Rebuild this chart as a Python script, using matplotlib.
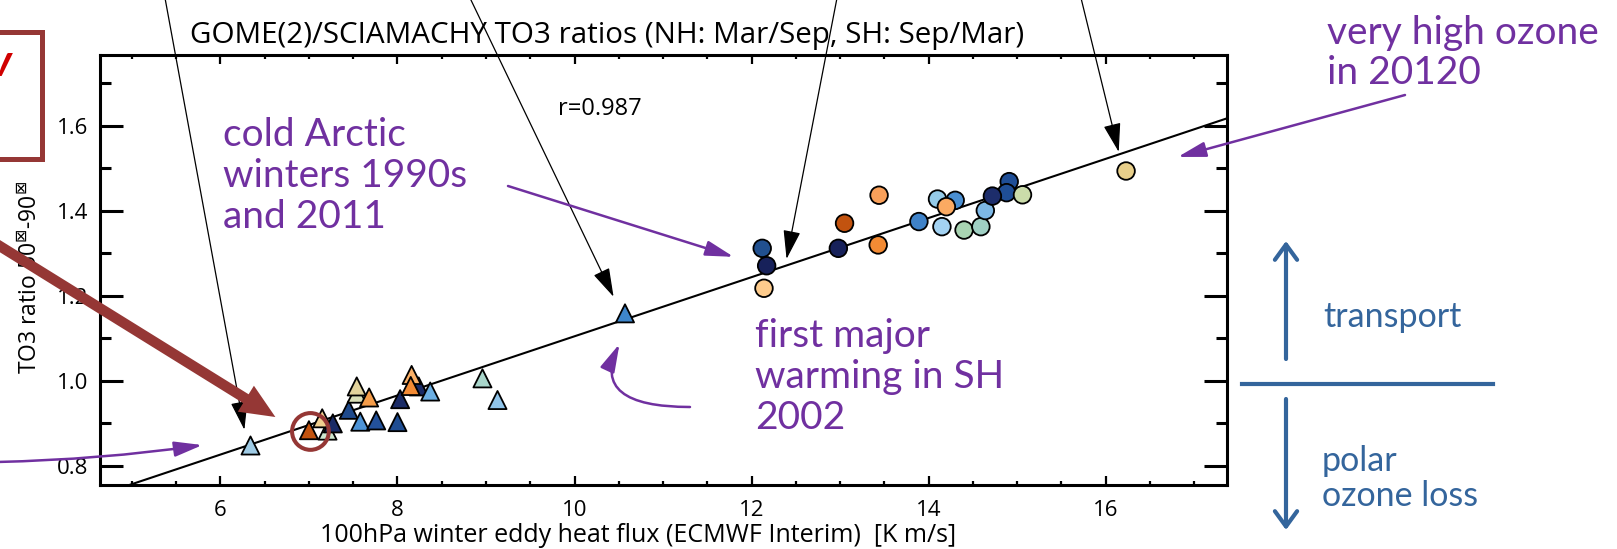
import numpy as np
import matplotlib
matplotlib.use("Agg")
import matplotlib.pyplot as plt
from matplotlib.ticker import MultipleLocator
from matplotlib.patches import Rectangle, FancyArrowPatch
from matplotlib.lines import Line2D

W, H, DPI = 1617, 549, 100

# southern hemisphere winters (triangles): eddy heat flux vs TO3 ratio
sh_flux = [6.34, 7.21, 7.15, 7.27, 7.00, 7.45, 7.54, 7.54, 7.68, 7.58,
           7.76, 8.00, 8.03, 8.24, 8.16, 8.15, 8.37, 8.96, 9.13, 10.57]
sh_ratio = [0.848, 0.883, 0.912, 0.900, 0.884, 0.932, 0.970, 0.987, 0.961, 0.904,
            0.907, 0.903, 0.957, 0.987, 1.014, 0.988, 0.975, 1.006, 0.955, 1.159]
sh_color = ['#9fcbe5', '#cde6cf', '#f0cf8f', '#1a2b66', '#c2530f', '#1e4a8c',
            '#d9dfb8', '#e2d39c', '#f59d4a', '#4d93d6', '#23519a', '#1f4d92',
            '#1a2b66', '#1a2b66', '#fbb067', '#f38b34', '#6cafe3', '#a9d6cb',
            '#8fc4ea', '#3e86cb']

# northern hemisphere winters (circles)
nh_flux = [12.12, 12.17, 12.14, 12.98, 13.05, 13.44, 13.43, 13.89, 14.30, 14.10,
           14.20, 14.15, 14.40, 14.59, 14.64, 14.91, 14.88, 14.72, 15.06, 16.23]
nh_ratio = [1.312, 1.271, 1.218, 1.312, 1.371, 1.437, 1.320, 1.375, 1.425, 1.428,
            1.410, 1.363, 1.355, 1.363, 1.401, 1.469, 1.443, 1.435, 1.438, 1.494]
nh_color = ['#21508f', '#17215a', '#fdcb8c', '#17215a', '#c2530f', '#f9a05a',
            '#f38b34', '#3f82c8', '#4a8fd2', '#95cbe8', '#fbaa62', '#a3d2f2',
            '#a9d4b2', '#a0d0c4', '#7db8e6', '#1f4e96', '#1f4e96', '#1d2d6b',
            '#cbdcaa', '#e8cf8a']

# regression line
fit_slope, fit_icpt = 0.0696, 0.409
r_value = 0.987

xticks = [6, 8, 10, 12, 14, 16]
yticks = [0.8, 1.0, 1.2, 1.4, 1.6]

PURPLE = '#7030a0'
DARKRED = '#953735'
BLUE = '#34659c'

plt.rcParams['font.family'] = ['Open Sans', 'DejaVu Sans']


def fx(px):
    return px / W


def fy(py):
    return 1 - py / H


fig = plt.figure(figsize=(W / DPI, H / DPI), dpi=DPI)
ax = fig.add_axes([fx(100), fy(485), (1227 - 100) / W, (485 - 55) / H])
ax.set_xlim(4.64, 17.37)
ax.set_ylim(0.755, 1.767)

xs = np.array(ax.get_xlim())
ax.plot(xs, fit_icpt + fit_slope * xs, color='k', lw=1.5, zorder=2)

ax.scatter(sh_flux, sh_ratio, marker='^', s=170, c=sh_color,
           edgecolors='k', linewidths=1.3, zorder=3)
ax.scatter(nh_flux, nh_ratio, marker='o', s=160, c=nh_color,
           edgecolors='k', linewidths=1.3, zorder=3)

# ring around the 2002-like SH winter
ax.scatter([7.017], [0.881], marker='o', s=700, facecolors='none',
           edgecolors=DARKRED, linewidths=2.9, zorder=4)

ax.set_xticks(xticks)
ax.set_yticks(yticks)
ax.xaxis.set_minor_locator(MultipleLocator(0.5))
ax.yaxis.set_minor_locator(MultipleLocator(0.1))
ax.tick_params(axis='x', which='major', direction='in', length=6.5, width=1.6,
               top=True, labelsize=16, pad=11)
ax.tick_params(axis='x', which='minor', direction='in', length=3.2, width=1.6, top=True)
ax.tick_params(axis='y', which='major', direction='in', length=16.5, width=2.2,
               right=True, labelsize=16, pad=8.5)
ax.tick_params(axis='y', which='minor', direction='in', length=8, width=2.2, right=True)
for sp in ax.spines.values():
    sp.set_linewidth(2.2)

ax.set_xlabel('100hPa winter eddy heat flux (ECMWF Interim)  [K m/s]', fontsize=18)
ax.xaxis.set_label_coords((638 - 100) / 1127, -(523 - 485) / 430)
ax.set_ylabel(r'TO3 ratio 50$^{\boxtimes}$-90$^{\boxtimes}$', fontsize=16.5)
ax.yaxis.set_label_coords(-(100 - 43) / 1127, (485 - 277) / 430)

fig.text(fx(190), fy(43), 'GOME(2)/SCIAMACHY TO3 ratios (NH: Mar/Sep, SH: Sep/Mar)',
         fontsize=21.3, va='baseline')
fig.text(fx(558), fy(115), f'r={r_value}', fontsize=17, va='baseline')

# thin black pointers from above
black_tips = [(6.271, 0.885), (10.441, 1.198), (12.395, 1.287), (16.147, 1.539)]
black_tops = [165, 470, 837, 1081]
for (tx, ty), top in zip(black_tips, black_tops):
    ax.annotate('', xy=(tx, ty), xytext=(fx(top), fy(-2)),
                textcoords='figure fraction', annotation_clip=False,
                arrowprops=dict(arrowstyle='-|>,head_length=18,head_width=5.4',
                                mutation_scale=1, lw=0.9, color='k',
                                shrinkA=0, shrinkB=0))

# purple callouts
purple_arrow = dict(arrowstyle='-|>,head_length=17,head_width=4.6', mutation_scale=1,
                    lw=1.8, color=PURPLE, shrinkA=0, shrinkB=0)
ax.annotate('', xy=(11.797, 1.292), xytext=(fx(508), fy(186)),
            textcoords='figure fraction', arrowprops=purple_arrow)
ax.annotate('', xy=(16.814, 1.527), xytext=(fx(1405), fy(95)),
            textcoords='figure fraction', annotation_clip=False, arrowprops=purple_arrow)
ax.annotate('', xy=(5.797, 0.849), xytext=(fx(-3), fy(462)),
            textcoords='figure fraction',
            arrowprops=dict(purple_arrow, connectionstyle='arc3,rad=0.03'))
ax.annotate('', xy=(10.508, 1.087), xytext=(fx(690), fy(407)),
            textcoords='figure fraction',
            arrowprops=dict(purple_arrow, connectionstyle='angle3,angleA=0,angleB=65'))

# thick dark red pointer
ax.annotate('', xy=(6.621, 0.915), xytext=(fx(-10), fy(240)),
            textcoords='figure fraction', annotation_clip=False,
            arrowprops=dict(arrowstyle='simple,head_length=25,head_width=22,tail_width=7.5',
                            mutation_scale=1, fc=DARKRED, ec=DARKRED, lw=0,
                            shrinkA=0, shrinkB=0))

# frame sticking in from the left edge
fig.add_artist(Rectangle((fx(-30), fy(159)), fx(41.5) - fx(-30), (159 - 32) / H,
                         transform=fig.transFigure, fill=False, ec=DARKRED, lw=3.6))
fig.text(fx(12), fy(76), 'v', color='#d00000', fontsize=32, fontweight='bold',
         style='italic', family='Lato', ha='right', va='baseline')


def block(lines, x, y0, step, **kw):
    for i, s in enumerate(lines):
        fig.text(fx(x), fy(y0 + i * step), s, va='baseline', family='Lato', **kw)


block(['cold Arctic', 'winters 1990s', 'and 2011'], 223, 146, 41,
      color=PURPLE, fontsize=28)
block(['first major', 'warming in SH', '2002'], 755, 347, 41,
      color=PURPLE, fontsize=28)
block(['very high ozone', 'in 20120'], 1327, 44, 40, color=PURPLE, fontsize=28)
block(['transport'], 1323, 327, 35, color=BLUE, fontsize=24.5)
block(['polar', 'ozone loss'], 1322, 471, 35, color=BLUE, fontsize=24.5)

# transport / ozone loss indicator
blue_arrow = dict(transform=fig.transFigure, arrowstyle='->,head_length=11,head_width=8',
                  mutation_scale=1, lw=3, color=BLUE, shrinkA=0, shrinkB=0)
fig.add_artist(FancyArrowPatch((fx(1286), fy(359)), (fx(1286), fy(241)), **blue_arrow))
fig.add_artist(FancyArrowPatch((fx(1286), fy(399)), (fx(1286), fy(530)), **blue_arrow))
fig.add_artist(Line2D([fx(1242), fx(1493)], [fy(384), fy(384)],
                      transform=fig.transFigure, color=BLUE, lw=3))

fig.savefig('out.png', dpi=DPI)
